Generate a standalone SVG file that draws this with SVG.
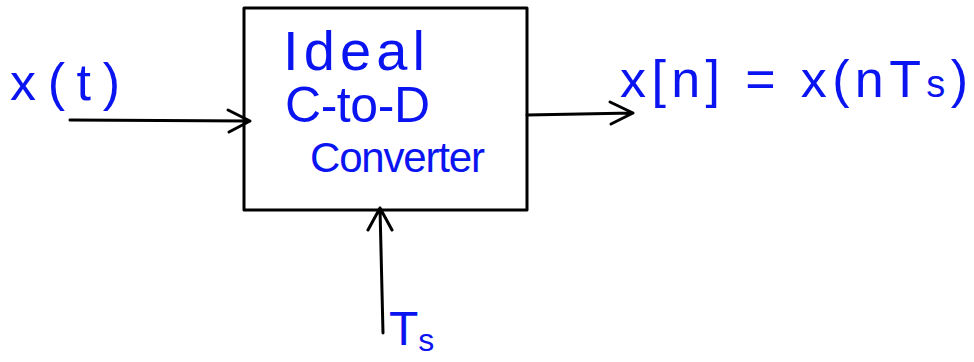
<svg xmlns="http://www.w3.org/2000/svg" width="974" height="362" viewBox="0 0 974 362">
  <style>
    .ink { fill: none; stroke: #000; stroke-width: 3; stroke-linecap: round; stroke-linejoin: round; }
    .hand { fill: #0a14f0; font-family: "Liberation Sans", "DejaVu Sans", sans-serif; }
  </style>
  <rect width="974" height="362" fill="#fff"/>

  <g id="converter">
    <rect class="ink" x="244" y="8" width="283" height="202" stroke-linecap="butt" stroke-linejoin="miter"/>
    <text class="hand" x="283" y="70" font-size="56" textLength="142" lengthAdjust="spacing">Ideal</text>
    <text class="hand" x="285" y="122" font-size="50" textLength="145" lengthAdjust="spacing">C-to-D</text>
    <text class="hand" x="310" y="172" font-size="42" textLength="175" lengthAdjust="spacing">Converter</text>
  </g>

  <g id="input-label">
    <text class="hand" x="10" y="100" font-size="52" textLength="110" lengthAdjust="spacing">x(t)</text>
  </g>

  <g id="output-label">
    <text class="hand" x="620" y="97" font-size="52" textLength="348" lengthAdjust="spacing">x[n] = x(nT<tspan font-size="38">s</tspan>)</text>
  </g>

  <g id="period-label">
    <text class="hand" x="389" y="345" font-size="48">T<tspan font-size="32" dy="6">s</tspan></text>
  </g>

  <g id="connectors">
    <path class="ink" d="M70 120 L250 121 M228 110 L250 121 L229 132"/>
    <path class="ink" d="M527 115 L633 113 M610 102 L633 113 L611 124"/>
    <path class="ink" d="M383 333 L380 208 M368 230 L380 208 L392 230"/>
  </g>
</svg>
